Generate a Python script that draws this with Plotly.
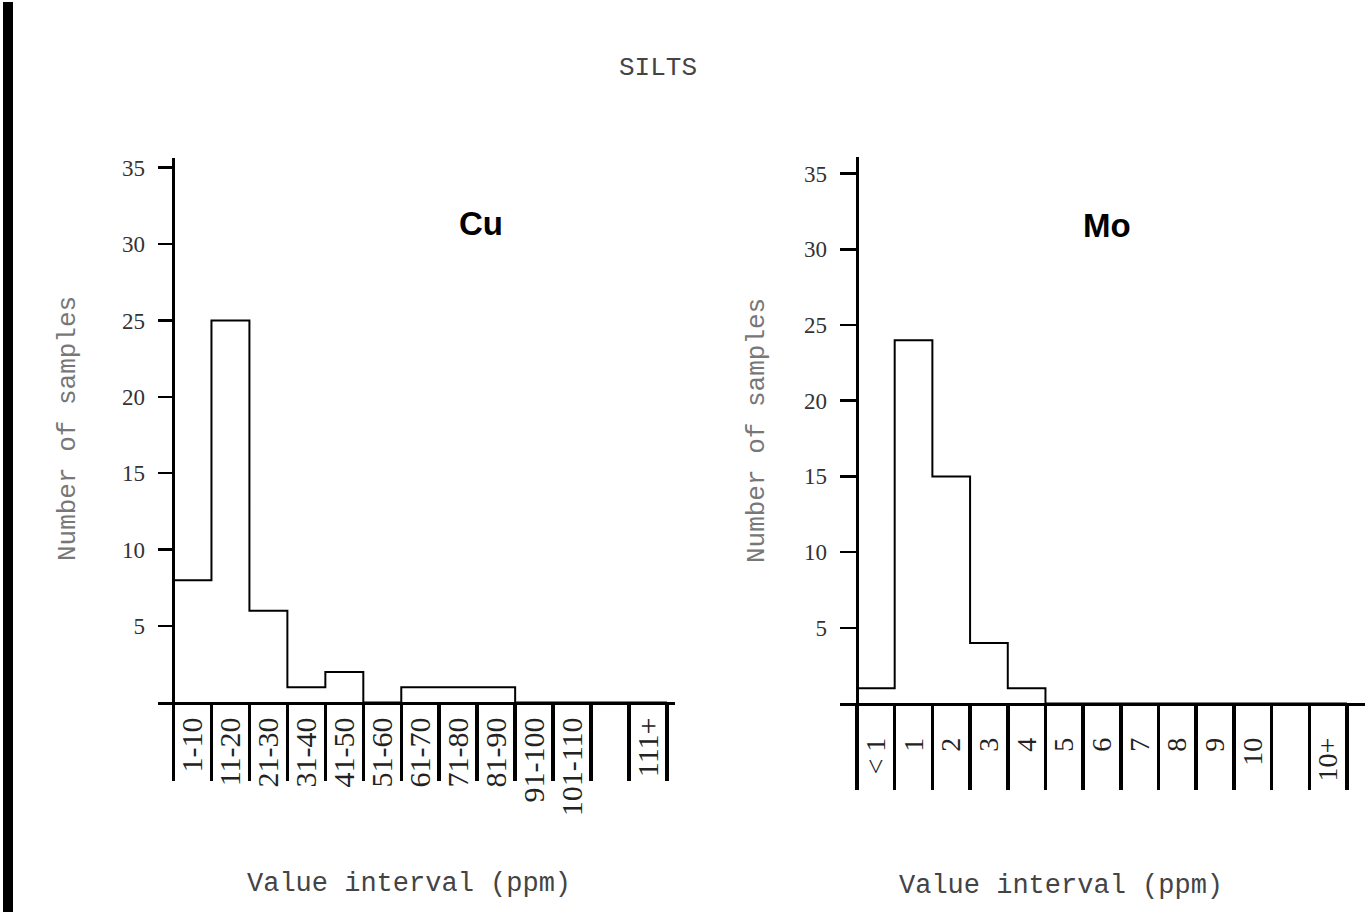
import plotly.graph_objects as go

# ---- data ----
cu_categories = ["1-10", "11-20", "21-30", "31-40", "41-50", "51-60", "61-70",
                 "71-80", "81-90", "91-100", "101-110", "", "111+"]
cu_counts = [8, 25, 6, 1, 2, 0, 1, 1, 1, 0, 0, 0, 0]

mo_categories = ["< 1", "1", "2", "3", "4", "5", "6", "7", "8", "9", "10", "", "10+"]
mo_counts = [1, 24, 15, 4, 1, 0, 0, 0, 0, 0, 0, 0, 0]

y_ticks = [5, 10, 15, 20, 25, 30, 35]

W, H = 1369, 912


def px(x):
    return x / W


def py(y):
    return 1 - y / H


def step_xy(counts):
    n = len(counts)
    xs = [0] + list(range(n)) + [n]
    ys = [0] + list(counts) + [counts[-1]]
    return xs, ys


fig = go.Figure()

xs, ys = step_xy(cu_counts)
fig.add_trace(go.Scatter(x=xs, y=ys, mode="lines", line=dict(color="black", width=2, shape="hv"),
                         xaxis="x", yaxis="y", showlegend=False, hoverinfo="skip"))
xs, ys = step_xy(mo_counts)
fig.add_trace(go.Scatter(x=xs, y=ys, mode="lines", line=dict(color="black", width=2, shape="hv"),
                         xaxis="x2", yaxis="y2", showlegend=False, hoverinfo="skip"))

tickfont_y = dict(family="Liberation Serif", size=23, color="#333333")


def xaxis_cfg(domain, rng, cats, size, standoff, divlen):
    n = len(cats)
    return dict(
        domain=domain, range=rng, showgrid=False,
        showline=True, linecolor="black", linewidth=3,
        zeroline=True, zerolinecolor="black", zerolinewidth=3,
        tickmode="array", tickvals=[i + 0.5 for i in range(n)], ticktext=cats,
        tickangle=-90, ticks="", ticklabelstandoff=standoff,
        tickfont=dict(family="Liberation Serif", size=size, color="#222222"),
        minor=dict(tickmode="array", tickvals=list(range(n + 1)), ticks="outside",
                   ticklen=divlen, tickwidth=3.5, tickcolor="black", showgrid=False),
        fixedrange=True,
    )


def yaxis_cfg(domain, rng, anchor, ticklen):
    return dict(
        domain=domain, range=rng, anchor=anchor, showgrid=False, showline=False,
        zeroline=False, tickmode="array", tickvals=y_ticks,
        ticks="inside", ticklen=ticklen, tickwidth=2.5, tickcolor="black",
        tickfont=tickfont_y, ticklabelstandoff=12, fixedrange=True,
    )


# Cu panel geometry
cu_unit = (667 - 173.5) / 13
cu_x = xaxis_cfg([px(158), px(675)], [-(173.5 - 158) / cu_unit, 13 + (675 - 667) / cu_unit],
                 cu_categories, 30, 0, 76)
cu_x["anchor"] = "y"
cu_yunit = (702 - 166) / 35
cu_y = yaxis_cfg([py(702), py(156)], [0, (702 - 156) / cu_yunit], "x", 16)

# Mo panel geometry
mo_unit = (1347 - 857) / 13
mo_x = xaxis_cfg([px(840), px(1365)], [-(857 - 840) / mo_unit, 13 + (1365 - 1347) / mo_unit],
                 mo_categories, 28, 20, 84)
mo_x["anchor"] = "y2"
mo_yunit = (703 - 172) / 35
mo_y = yaxis_cfg([py(703), py(155)], [0, (703 - 155) / mo_yunit], "x2", 17)

ann_font_mono = dict(family="Liberation Mono", size=27, color="#444444")
ann_font_ytitle = dict(family="Liberation Mono", size=26, color="#777777")
annotations = [
    dict(text="SILTS", x=px(658), y=py(66), font=dict(family="Liberation Mono", size=26, color="#444444")),
    dict(text="<b>Cu</b>", x=px(481), y=py(222), font=dict(family="Liberation Sans", size=33, color="black")),
    dict(text="<b>Mo</b>", x=px(1107), y=py(224), font=dict(family="Liberation Sans", size=33, color="black")),
    dict(text="Value interval (ppm)", x=px(409), y=py(884), font=ann_font_mono),
    dict(text="Value interval (ppm)", x=px(1061), y=py(886), font=ann_font_mono),
    dict(text="Number of samples", x=px(68), y=py(428), textangle=-90, font=ann_font_ytitle),
    dict(text="Number of samples", x=px(757), y=py(430), textangle=-90, font=ann_font_ytitle),
]
for a in annotations:
    a.update(xref="paper", yref="paper", showarrow=False, xanchor="center", yanchor="middle")

fig.update_layout(
    width=W, height=H, margin=dict(l=0, r=0, t=0, b=0),
    paper_bgcolor="white", plot_bgcolor="rgba(0,0,0,0)",
    xaxis=cu_x, yaxis=cu_y, xaxis2=mo_x, yaxis2=mo_y,
    annotations=annotations,
    shapes=[dict(type="rect", xref="paper", yref="paper", x0=px(3), x1=px(13), y0=0, y1=1,
                 fillcolor="black", line=dict(width=0), layer="above")],
    showlegend=False,
)

fig.write_html("out.html", config={"displayModeBar": False, "staticPlot": True},
               post_script="document.body.style.margin='0px';document.body.style.overflow='hidden';")
